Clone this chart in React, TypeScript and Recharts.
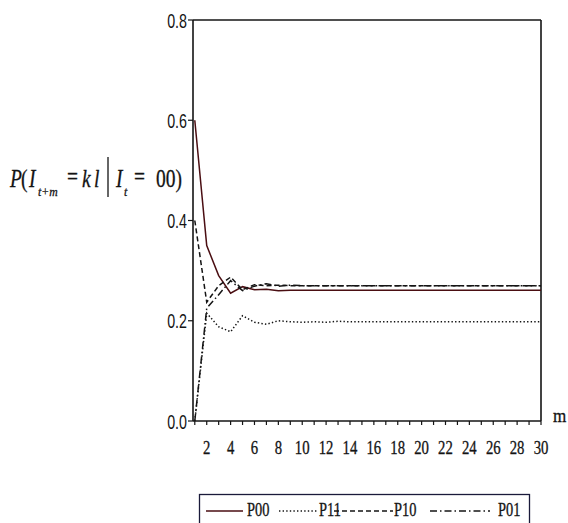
import React from 'react';
import { LineChart, Line, XAxis, YAxis, ReferenceLine } from 'recharts';

const M = [1,2,3,4,5,6,7,8,9,10,11,12,13,14,15,16,17,18,19,20,21,22,23,24,25,26,27,28,29,30];
const P00 = [0.600,0.350,0.290,0.255,0.268,0.262,0.263,0.260,0.261,0.261,0.261,0.261,0.261,0.261,0.261,0.261,0.261,0.261,0.261,0.261,0.261,0.261,0.261,0.261,0.261,0.261,0.261,0.261,0.261,0.261];
const P11 = [0.000,0.215,0.188,0.178,0.210,0.197,0.193,0.200,0.198,0.197,0.198,0.197,0.199,0.198,0.198,0.198,0.198,0.198,0.198,0.198,0.198,0.198,0.198,0.198,0.198,0.198,0.198,0.198,0.198,0.198];
const P10 = [0.400,0.237,0.270,0.287,0.262,0.272,0.270,0.271,0.270,0.270,0.270,0.270,0.270,0.270,0.270,0.270,0.270,0.270,0.270,0.270,0.270,0.270,0.270,0.270,0.270,0.270,0.270,0.270,0.270,0.270];
const P01 = [0.000,0.225,0.252,0.280,0.260,0.269,0.274,0.269,0.271,0.270,0.270,0.270,0.270,0.270,0.270,0.270,0.270,0.270,0.270,0.270,0.270,0.270,0.270,0.270,0.270,0.270,0.270,0.270,0.270,0.270];
const Y_TICKS = [0, 0.2, 0.4, 0.6, 0.8];

const data = M.map((m, i) => ({ m, P00: P00[i], P11: P11[i], P10: P10[i], P01: P01[i] }));

const SERIF = '"Liberation Serif", "Times New Roman", serif';
const SANS = '"Liberation Sans", Arial, sans-serif';
const INK = '#141414';

const SERIES = [
  { key: 'P00', color: '#4a0e12', dash: undefined as string | undefined },
  { key: 'P11', color: INK, dash: '1.4 2.2' },
  { key: 'P10', color: INK, dash: '5 3' },
  { key: 'P01', color: INK, dash: '7 3 1.5 3' },
];

const XTick = (props: any) => {
  const { x, y, payload } = props;
  if (payload.value % 2 !== 0) return null;
  return (
    <text transform={`translate(${x},${y + 29}) scale(0.82,1)`} textAnchor="middle"
      fontFamily={SERIF} fontSize={18} fill={INK} stroke={INK} strokeWidth={0.3}>{payload.value}</text>
  );
};

const YTick = (props: any) => {
  const { x, y, payload } = props;
  return (
    <text transform={`translate(${x},${y + 7.5}) scale(0.68,1)`} textAnchor="end"
      fontFamily={SANS} fontSize={21} fill={INK}>{Number(payload.value).toFixed(1)}</text>
  );
};

const Piece = ({ x, y, t, it, size = 25, sx = 0.78 }: any) => (
  <text transform={`translate(${x},${y}) scale(${sx},1)`} fontFamily={SERIF} fontSize={size}
    fontStyle={it ? 'italic' : 'normal'} fill={INK} stroke={INK} strokeWidth={0.3}>{t}</text>
);

export default function App() {
  return (
    <div style={{ position: 'absolute', left: 0, top: 0, width: 568, height: 523, overflow: 'hidden', background: '#fff' }}>
      <LineChart width={568} height={523} data={data} margin={{ top: 20, right: 27, bottom: 72, left: 153 }}>
        <XAxis dataKey="m" type="number" domain={[0.85, 30]} allowDataOverflow ticks={M} interval={0}
          tickSize={4} tickMargin={0} height={30} tick={<XTick />}
          axisLine={{ stroke: INK, strokeWidth: 1.6 }} tickLine={{ stroke: INK, strokeWidth: 1.2 }} />
        <YAxis type="number" domain={[0, 0.8]} ticks={Y_TICKS} interval={0} width={40}
          tickSize={5} tickMargin={1} tick={<YTick />}
          axisLine={{ stroke: INK, strokeWidth: 1.6 }} tickLine={{ stroke: INK, strokeWidth: 1.2 }} />
        <ReferenceLine y={0.8} stroke={INK} strokeWidth={1.6} />
        <ReferenceLine x={30} stroke={INK} strokeWidth={1.6} />
        {SERIES.map(s => (
          <Line key={s.key} dataKey={s.key} type="linear" stroke={s.color} strokeWidth={1.5}
            strokeDasharray={s.dash} dot={false} isAnimationActive={false} />
        ))}
      </LineChart>
      <svg width={568} height={523} style={{ position: 'absolute', left: 0, top: 0, pointerEvents: 'none' }}>
        <Piece x={10} y={187} t="P" it />
        <Piece x={21} y={187} t="(" />
        <Piece x={29} y={187} t="I" it />
        <Piece x={38} y={196} t="t+m" it size={13} sx={0.9} />
        <Piece x={67} y={185} t="=" />
        <Piece x={82} y={187} t="k" it />
        <Piece x={94} y={187} t="l" it />
        <line x1={108} y1={157} x2={108} y2={197} stroke={INK} strokeWidth={1.3} />
        <Piece x={116} y={187} t="I" it />
        <Piece x={124} y={196} t="t" it size={13} sx={0.9} />
        <Piece x={134} y={185} t="=" />
        <Piece x={156} y={187} t="00)" />
        <Piece x={553} y={422} t="m" size={19} sx={0.9} />
        <rect x={199.5} y={494.5} width={330} height={40} fill="none" stroke="#1a1a3a" strokeWidth={1.3} />
        <line x1={206} y1={511} x2={243} y2={511} stroke={SERIES[0].color} strokeWidth={1.7} />
        <Piece x={247} y={516} t="P00" size={18} sx={0.8} />
        <line x1={279} y1={511} x2={318} y2={511} stroke={INK} strokeWidth={1.4} strokeDasharray={SERIES[1].dash} />
        <Piece x={319} y={516} t="P11" size={18} sx={0.8} />
        <line x1={334} y1={511} x2={393} y2={511} stroke={INK} strokeWidth={1.4} strokeDasharray={SERIES[2].dash} />
        <Piece x={394} y={516} t="P10" size={18} sx={0.8} />
        <line x1={430} y1={511} x2={490} y2={511} stroke={INK} strokeWidth={1.4} strokeDasharray={SERIES[3].dash} />
        <Piece x={498} y={516} t="P01" size={18} sx={0.8} />
      </svg>
    </div>
  );
}
